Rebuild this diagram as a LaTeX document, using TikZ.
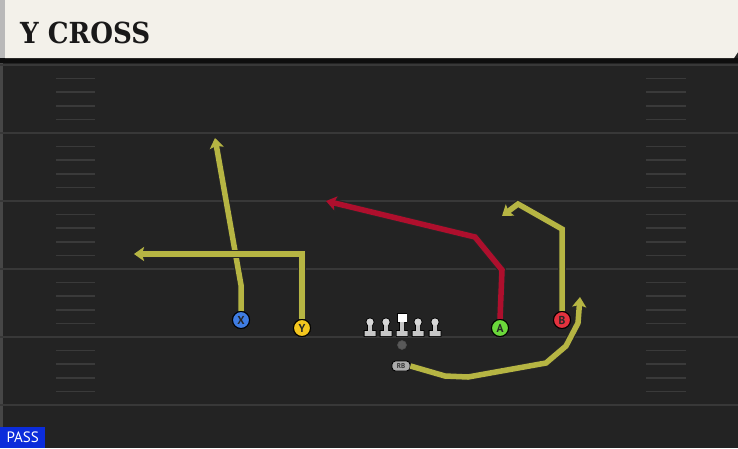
\documentclass[tikz,border=0pt]{standalone}
\usepackage{fontspec}
\setmainfont{DejaVu Serif}
\setsansfont{PT Sans}
\newfontfamily\titlefont{DejaVu Serif}
\usetikzlibrary{arrows.meta}
\definecolor{fieldbg}{HTML}{232323}
\definecolor{yardln}{HTML}{383838}
\definecolor{hashc}{HTML}{3A3A3A}
\definecolor{headerbg}{HTML}{F3F1EA}
\definecolor{routey}{HTML}{B6B543}
\definecolor{router}{HTML}{AE0F2D}
\definecolor{pblue}{HTML}{3F7DE3}
\definecolor{pyellow}{HTML}{F4C61E}
\definecolor{pgreen}{HTML}{6BD83B}
\definecolor{pred}{HTML}{E3323E}
\definecolor{passblue}{HTML}{0B2CDB}
\definecolor{linegray}{HTML}{C6C6C6}
\tikzset{
  x=1pt, y=-1pt,
  yard/.style={draw=yardln, line width=2pt},
  hashmark/.style={draw=hashc, line width=1.6pt},
  player/.style={circle, draw=black, line width=1pt, minimum size=17pt, inner sep=0pt,
    font=\sffamily\bfseries\fontsize{11.5}{11.5}\selectfont, text=black!85},
  route/.style={line width=5.5pt, line join=miter, line cap=butt,
    preaction={draw=black!85, line width=7.5pt}},
  routearrow/.style={route, -{Stealth[inset=2pt,length=10pt,width=14pt]},
    preaction={draw=black!85, line width=7.5pt, -{Stealth[inset=2pt,length=11.5pt,width=16.5pt]}}},
}
\begin{document}
\begin{tikzpicture}
\useasboundingbox (0,0) rectangle (738,448);
% field
\fill[fieldbg] (0,0) rectangle (738,448);
\fill[black!60!fieldbg] (0,58) rectangle (738,63);
\fill[black!45!gray] (0,63) rectangle (3,448);
% yard lines
\foreach \yy in {65,133,201,269,337,405} {
  \path[yard] (0,\yy) -- (738,\yy);
}
% hash marks
\foreach \k in {0,...,4} {
  \foreach \j in {1,...,4} {
    \pgfmathsetmacro{\hy}{65+68*\k+13.6*\j}
    \path[hashmark] (56,\hy) -- (95,\hy);
    \path[hashmark] (646,\hy) -- (686,\hy);
  }
}
% header
\fill[gray!55] (0,0) rectangle (5,58);
\fill[headerbg] (5,0) -- (738,0) -- (738,52) -- (734,58) -- (5,58) -- cycle;
\node[anchor=base west, inner sep=0pt, text=black!90] (title) at (20,43)
  {\scalebox{0.9}[1]{\titlefont\bfseries\fontsize{29}{29}\selectfont Y CROSS}};
% PASS badge
\node[anchor=south west, fill=passblue, text=white, inner sep=0pt, minimum width=45pt,
  minimum height=21pt, font=\sffamily\fontsize{15}{15}\selectfont] (pass) at (0,448) {PASS};
% offensive line
\foreach \lx/\nm in {370/lt,386/lg,418/rg,435/rt} {
  \path[draw=black, line width=1.6pt] (\lx,322) circle (3.6) (\lx-2,322) rectangle (\lx+2,333) (\lx-5.5,331) rectangle (\lx+5.5,336);
  \path[fill=linegray] (\lx-2,322) rectangle (\lx+2,333) (\lx-5.5,331) rectangle (\lx+5.5,336);
  \path[fill=linegray!70!white] (\lx,322) circle (3.6);
}
\path[draw=black, line width=1.6pt] (397.5,313.5) rectangle (406.5,322) (400,322) rectangle (404,333) (396.5,331) rectangle (407.5,336);
\path[fill=linegray] (400,320) rectangle (404,333) (396.5,331) rectangle (407.5,336);
\path[fill=white] (397.5,313.5) rectangle (406.5,322);
\node[circle, fill=gray!70!black, draw=black!70, line width=0.6pt, minimum size=9pt, inner sep=0pt] (ball) at (402,345) {};
% players
\node[player, fill=pblue] (X) at (241,320) {X};
\node[player, fill=pyellow] (Y) at (302,328) {Y};
\node[player, fill=pgreen] (A) at (500,328) {A};
\node[player, fill=pred] (B) at (562,320) {B};
\node[rounded corners=3.5pt, fill=gray!65, draw=black, line width=0.9pt, minimum width=18pt,
  minimum height=10pt, inner sep=0pt, font=\sffamily\bfseries\fontsize{7}{7}\selectfont, text=black!80] (RB) at (401,366) {RB};
% route coordinates
\coordinate (x1) at (241,285);
\coordinate (xe) at (215,138);
\coordinate (y1) at (302,254);
\coordinate (ye) at (134,254);
\coordinate (a1) at (502,270);
\coordinate (a2) at (475,237);
\coordinate (ae) at (326,201);
\coordinate (b1) at (562,229);
\coordinate (b2) at (518,204);
\coordinate (be) at (502,216);
\coordinate (r1) at (445,376);
\coordinate (r2) at (468,377);
\coordinate (r3) at (546,363);
\coordinate (r4) at (566,346);
\coordinate (r5) at (578,323);
\coordinate (re) at (580,297);
% routes
\draw[routearrow, routey] (X.north) -- (x1) -- (xe);
\draw[routearrow, routey] (Y.north) -- (y1) -- (ye);
\draw[routearrow, router] (A.north) -- (a1) -- (a2) -- (ae);
\draw[routearrow, routey] (B.north) -- (b1) -- (b2) -- (be);
\draw[routearrow, routey] (RB.east) -- (r1) -- (r2) -- (r3) -- (r4) -- (r5) -- (re);
% redraw player nodes on top
\node[player, fill=pblue] at (X) {X};
\node[player, fill=pyellow] at (Y) {Y};
\node[player, fill=pgreen] at (A) {A};
\node[player, fill=pred] at (B) {B};
\end{tikzpicture}
\end{document}
